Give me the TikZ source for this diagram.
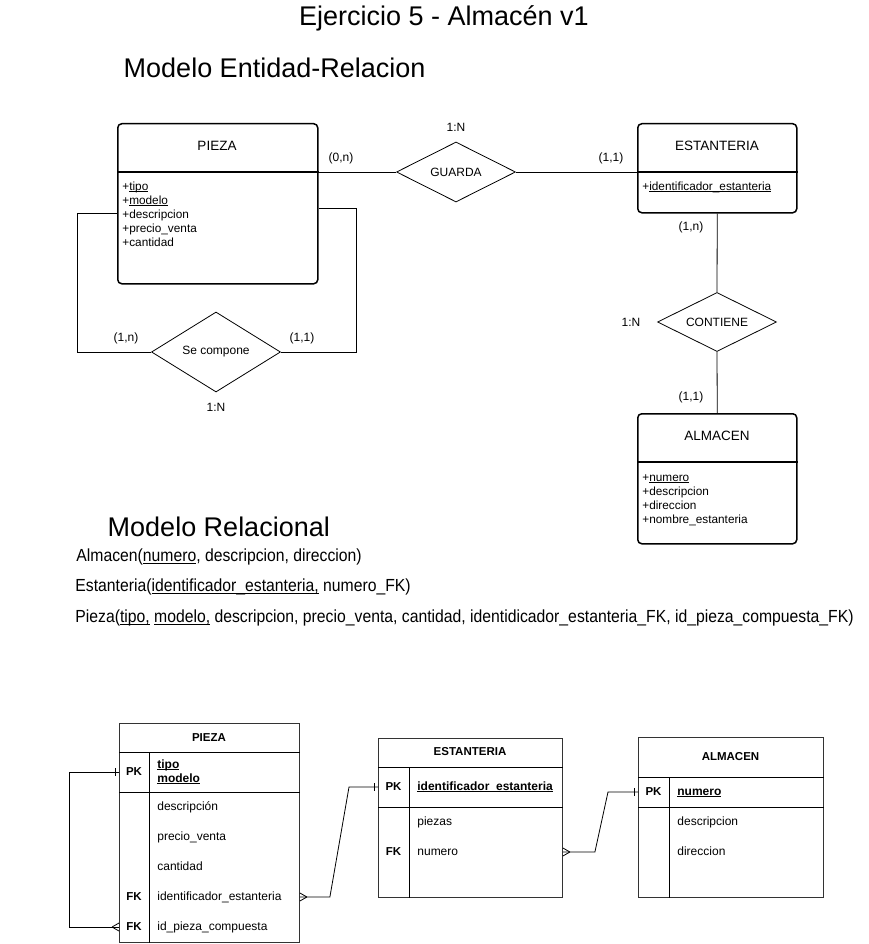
\documentclass[tikz,border=0pt]{standalone}
\usepackage{fontspec}
\setmainfont{Liberation Sans}
\newfontfamily\narrowfont[FakeStretch=0.9]{Liberation Sans}
\usetikzlibrary{shapes.geometric, positioning}
\newcommand{\subrayado}[1]{\underline{\smash{#1}}}

\begin{document}
\begin{tikzpicture}[x=1pt, y=-1pt, line width=0.8pt,
  entity/.style={draw, line width=1.5pt, rounded corners=4pt, anchor=north west, inner sep=0pt},
  relation/.style={draw, diamond, aspect=2, inner sep=0pt, font=\fontsize{12}{14}\selectfont},
  card/.style={font=\fontsize{12}{14}\selectfont},
  attrs/.style={anchor=north west, align=left, inner sep=0pt, font=\fontsize{11.8}{14}\selectfont},
  etitle/.style={font=\fontsize{13.5}{16}\selectfont},
  bigtitle/.style={font=\fontsize{27}{30}\selectfont},
  rel/.style={anchor=west, inner sep=0pt, font=\narrowfont\fontsize{17.5}{20}\selectfont},
  tabla/.style={draw=black!80, line width=0.9pt, anchor=north west, inner sep=0pt},
  tkey/.style={inner sep=0pt, text height=8pt, text depth=2pt, font=\fontsize{11.5}{14}\selectfont\bfseries},
  tfield/.style={anchor=west, inner sep=0pt, text height=8pt, text depth=2pt, font=\fontsize{12}{14}\selectfont}
  ]
  \useasboundingbox (0,0) rectangle (868,944);

  \node[bigtitle] (titulo) at (444,18) {Ejercicio 5 - Almacén v1};
  \node[bigtitle, anchor=west] (modeloER) at (120,68) {Modelo Entidad-Relacion};

  % modelo entidad-relacion
  \node[entity, minimum width=200pt, minimum height=160pt] (pieza) at (117,123) {};
  \draw[line width=1.5pt] ([yshift=-49pt]pieza.north west) -- ([yshift=-49pt]pieza.north east);
  \node[etitle] (piezaT) at (217,146) {PIEZA};
  \node[attrs] (piezaA) at (122,183) {+\subrayado{tipo}\\+\subrayado{modelo}\\+descripcion\\+precio\_venta\\+cantidad};

  \node[entity, minimum width=159pt, minimum height=89pt] (estanteria) at (637,123) {};
  \draw[line width=1.5pt] ([yshift=-49pt]estanteria.north west) -- ([yshift=-49pt]estanteria.north east);
  \node[etitle] (estanteriaT) at (717,146) {ESTANTERIA};
  \node[attrs] (estanteriaA) at (642,183) {+\subrayado{identificador\_estanteria}};

  \node[entity, minimum width=159pt, minimum height=130pt] (almacen) at (637,413) {};
  \draw[line width=1.5pt] ([yshift=-49pt]almacen.north west) -- ([yshift=-49pt]almacen.north east);
  \node[etitle] (almacenT) at (717,436) {ALMACEN};
  \node[attrs] (almacenA) at (642,474) {+\subrayado{numero}\\+descripcion\\+direccion\\+nombre\_estanteria};

  \node[relation, minimum width=119pt, minimum height=60pt] (guarda) at (456,172) {GUARDA};
  \node[relation, minimum width=119pt, minimum height=59pt] (contiene) at (717,322) {CONTIENE};
  \node[relation, minimum width=129pt, minimum height=80pt] (secompone) at (216,352) {Se compone};

  \draw (pieza.east |- guarda.west) -- (guarda.west);
  \draw (guarda.east) -- (estanteria.west |- guarda.east);
  \draw (estanteria.south) -- (contiene.north);
  \draw (contiene.south) -- (almacen.north);
  \draw ([yshift=-90pt]pieza.north west) -- ++(-40,0) |- (secompone.west);
  \draw ([yshift=-85pt]pieza.north east) -- ++(38,0) |- (secompone.east);

  \node[card] (cGuarda) at (456,127) {1:N};
  \node[card] (cPiezaG) at (341,158) {(0,n)};
  \node[card] (cEstanG) at (611,158) {(1,1)};
  \node[card] (cEstanC) at (691,227) {(1,n)};
  \node[card] (cContiene) at (631,322) {1:N};
  \node[card] (cAlmC) at (691,397) {(1,1)};
  \node[card] (cCompIzq) at (126,338) {(1,n)};
  \node[card] (cCompDer) at (302,338) {(1,1)};
  \node[card] (cCompone) at (216,407) {1:N};

  % modelo relacional
  \node[bigtitle, anchor=west] (modeloRel) at (104,527) {Modelo Relacional};
  \node[rel] (relAlm) at (76,557) {Almacen(\subrayado{numero}, descripcion, direccion)};
  \node[rel] (relEst) at (75,587) {Estanteria(\subrayado{identificador\_estanteria,} numero\_FK)};
  \node[rel] (relPie) at (75,618) {Pieza(\subrayado{tipo,} \subrayado{modelo,} descripcion, precio\_venta, cantidad, identidicador\_estanteria\_FK, id\_pieza\_compuesta\_FK)};

  % tablas
  \node[tabla, minimum width=180pt, minimum height=219pt] (tpieza) at (119,723) {};
  \draw ([yshift=-29pt]tpieza.north west) -- ([yshift=-29pt]tpieza.north east);
  \draw ([yshift=-69pt]tpieza.north west) -- ([yshift=-69pt]tpieza.north east);
  \draw ([shift={(30pt,-29pt)}]tpieza.north west) -- ([xshift=30pt]tpieza.south west);
  \node[tkey] (tpiezaT) at (209,738) {PIEZA};
  \node[tkey] (pzpk) at (134,772) {PK};
  \node[tfield, align=left, text height=, text depth=, font=\fontsize{12}{14}\selectfont\bfseries] (pzclave) at (157,776) {\subrayado{tipo}\\\subrayado{modelo}};
  \node[tfield] (pzf1) at (157,807) {descripción};
  \node[tfield] (pzf2) at (157,837) {precio\_venta};
  \node[tfield] (pzf3) at (157,867) {cantidad};
  \node[tkey] (pzfk1) at (134,897) {FK};
  \node[tfield] (pzf4) at (157,897) {identificador\_estanteria};
  \node[tkey] (pzfk2) at (134,927) {FK};
  \node[tfield] (pzf5) at (157,927) {id\_pieza\_compuesta};

  \node[tabla, minimum width=184pt, minimum height=159pt] (testan) at (378,738) {};
  \draw ([yshift=-29pt]testan.north west) -- ([yshift=-29pt]testan.north east);
  \draw ([yshift=-69pt]testan.north west) -- ([yshift=-69pt]testan.north east);
  \draw ([shift={(31pt,-29pt)}]testan.north west) -- ([xshift=31pt]testan.south west);
  \node[tkey] (testanT) at (470,752) {ESTANTERIA};
  \node[tkey] (espk) at (393.5,787) {PK};
  \node[tfield, font=\fontsize{12}{14}\selectfont\bfseries] (esclave) at (417,787) {\subrayado{identificador\_estanteria}};
  \node[tfield] (esf1) at (417,822) {piezas};
  \node[tkey] (esfk) at (393.5,852) {FK};
  \node[tfield] (esf2) at (417,852) {numero};

  \node[tabla, minimum width=185pt, minimum height=160pt] (talm) at (638,737) {};
  \draw ([yshift=-40pt]talm.north west) -- ([yshift=-40pt]talm.north east);
  \draw ([yshift=-70pt]talm.north west) -- ([yshift=-70pt]talm.north east);
  \draw ([shift={(31pt,-40pt)}]talm.north west) -- ([xshift=31pt]talm.south west);
  \node[tkey] (talmT) at (730.5,757) {ALMACEN};
  \node[tkey] (alpk) at (653.5,792) {PK};
  \node[tfield, font=\fontsize{12}{14}\selectfont\bfseries] (alclave) at (677,792) {\subrayado{numero}};
  \node[tfield] (alf1) at (677,822) {descripcion};
  \node[tfield] (alf2) at (677,852) {direccion};

  % relaciones entre tablas
  \coordinate (pzA) at (tpieza.west |- pzpk);
  \coordinate (pzB) at (tpieza.west |- pzfk2);
  \draw (pzA) -- ++(-50,0) |- (pzB);
  \draw ([xshift=-4pt]pzA) ++(0,-4) -- ++(0,8);
  \draw ([xshift=-7pt]pzB) -- ([yshift=4pt]pzB) ([xshift=-7pt]pzB) -- ([yshift=-4pt]pzB);

  \coordinate (pzC) at (tpieza.east |- pzfk1);
  \coordinate (esA) at (testan.west |- espk);
  \draw (pzC) -- ++(30,0) -- ([xshift=-29pt]esA) -- (esA);
  \draw ([xshift=7pt]pzC) -- ([yshift=4pt]pzC) ([xshift=7pt]pzC) -- ([yshift=-4pt]pzC);
  \draw ([xshift=-4pt]esA) ++(0,-4) -- ++(0,8);

  \coordinate (esB) at (testan.east |- esfk);
  \coordinate (alA) at (talm.west |- alpk);
  \draw (esB) -- ++(32,0) -- ([xshift=-30pt]alA) -- (alA);
  \draw ([xshift=7pt]esB) -- ([yshift=4pt]esB) ([xshift=7pt]esB) -- ([yshift=-4pt]esB);
  \draw ([xshift=-4pt]alA) ++(0,-4) -- ++(0,8);
\end{tikzpicture}
\end{document}
